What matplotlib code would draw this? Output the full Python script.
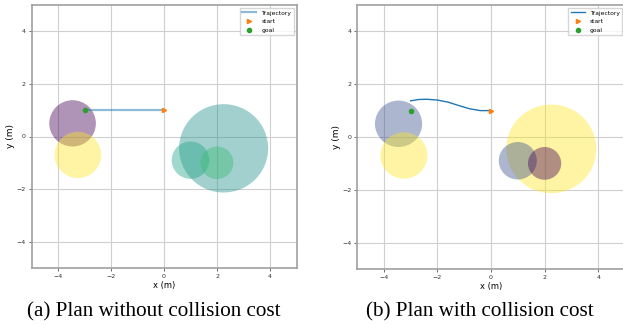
import matplotlib
matplotlib.use("Agg")
import matplotlib.pyplot as plt
from matplotlib.patches import Circle

# obstacles: centre x, centre y, radius
obs_x = [-3.45, -3.25, 2.25, 1.0, 2.0]
obs_y = [0.5, -0.7, -0.45, -0.9, -1.0]
obs_r = [0.88, 0.88, 1.68, 0.71, 0.62]
# colour value (viridis) of every obstacle in each plan
cval_a = [0.0, 1.0, 0.5, 0.58, 0.68]
cval_b = [0.25, 1.0, 1.0, 0.25, 0.0]

start = (0.0, 1.0)
goal = (-3.0, 1.0)

traj_a_x = [0.0, -1.0, -2.0, -3.0]
traj_a_y = [1.0, 1.0, 1.0, 1.0]
traj_b_x = [0.0, -0.4, -0.8, -1.2, -1.6, -2.0, -2.4, -2.7, -3.0]
traj_b_y = [1.0, 1.0, 1.07, 1.19, 1.32, 1.40, 1.43, 1.42, 1.37]

captions = ["(a) Plan without collision cost", "(b) Plan with collision cost"]

fig = plt.figure(figsize=(6.23, 3.25), dpi=100)
cmap = plt.get_cmap("viridis")

axes_pos = [[31.5 / 623, 57 / 325, 265 / 623, 263 / 325],
            [357 / 623, 56 / 325, 268 / 623, 264 / 325]]
panels = [(traj_a_x, traj_a_y, cval_a, 0.5, 1.6),
          (traj_b_x, traj_b_y, cval_b, 1.0, 1.0)]
cap_x = [154 / 623, 480 / 623]

for pos, (tx, ty, cv, la, lw), cap, cx in zip(axes_pos, panels, captions, cap_x):
    ax = fig.add_axes(pos)
    for x, y, r, c in zip(obs_x, obs_y, obs_r, cv):
        ax.add_patch(Circle((x, y), r, color=cmap(c), alpha=0.42, lw=0))
    ax.plot(tx, ty, color="C0", alpha=la, lw=lw, label="Trajectory")
    ax.plot(*start, ">", color="C1", ms=3, label="start")
    ax.plot(*goal, "o", color="C2", ms=3, label="goal")
    ax.set_xlim(-5, 5)
    ax.set_ylim(-5, 5)
    ax.set_xticks([-4, -2, 0, 2, 4])
    ax.set_yticks([-4, -2, 0, 2, 4])
    ax.grid(True, color="#cfcfcf", lw=0.8)
    ax.set_axisbelow(True)
    ax.tick_params(labelsize=4.5, length=2, width=0.5, pad=2, colors="#333333")
    for s in ax.spines.values():
        s.set_color("#a0a0a0")
        s.set_linewidth(1.2)
    ax.set_xlabel("x (m)", fontsize=6, labelpad=2)
    ax.set_ylabel("y (m)", fontsize=6.5, labelpad=1)
    ax.legend(loc="upper right", fontsize=4.3, handlelength=2.4, borderpad=0.4,
              labelspacing=0.6, fancybox=False, edgecolor="#cccccc")
    fig.text(cx, 13.5 / 325, cap, ha="center", va="center",
             family="Liberation Serif", fontsize=15.2)

fig.savefig("out.png", dpi=100)
